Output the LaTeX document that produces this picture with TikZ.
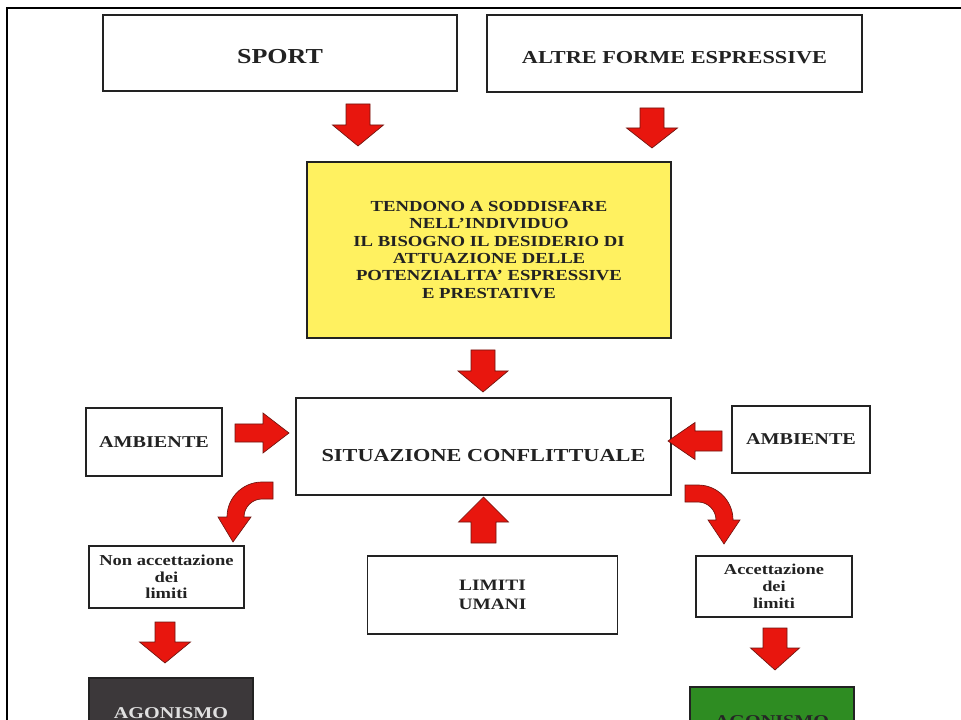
\documentclass[tikz,border=0pt]{standalone}
\usepackage{fontspec}
\setmainfont{Liberation Serif}[FakeStretch=1.22]
\definecolor{arrowred}{RGB}{232,22,14}
\definecolor{arrowedge}{RGB}{110,20,15}
\definecolor{boxyellow}{RGB}{255,241,96}
\definecolor{boxdark}{RGB}{60,56,58}
\definecolor{boxgreen}{RGB}{46,140,34}
\definecolor{inkgrey}{RGB}{34,34,34}
% block arrow: tail centre #1, rotation #2, length #3, head length #4,
% shaft half width #5, head half width #6
\newcommand\blockarr[6]{%
  \draw[blockarrow, shift={#1}, rotate=#2]
    (0,-#5) -- ({#3-#4},-#5) -- ({#3-#4},-#6) -- (#3,0) --
    ({#3-#4},#6) -- ({#3-#4},#5) -- (0,#5) -- cycle;}
\begin{document}
\begin{tikzpicture}[x=0.75pt,y=-0.75pt,
  box/.style={draw=inkgrey, line width=0.9pt, fill=white, inner sep=0pt,
    align=center, text=inkgrey},
  lbl/.style={align=center, text=inkgrey, inner sep=0pt},
  blockarrow/.style={fill=arrowred, draw=arrowedge, line width=0.5pt,
    line join=miter},
]
\useasboundingbox (0,0) rectangle (961,720);
\clip (0,0) rectangle (961,720);

% page frame
\draw[line width=1.6pt, black] (7,730) -- (7,8) -- (970,8);

% top row
\node[box, minimum width=265.5pt, minimum height=57pt] (sport) at (280,53) {};
\node[lbl, font=\fontsize{16}{18}\selectfont\bfseries] (sporttxt)
  at ([yshift=-2.6pt]sport.center) {SPORT};
\node[box, minimum width=281.25pt, minimum height=57.75pt] (altre) at (674.5,53.5) {};
\node[lbl, font=\fontsize{13.7}{16}\selectfont\bfseries] (altretxt)
  at ([yshift=-3pt]altre.center) {ALTRE FORME ESPRESSIVE};

% central statement
\node[box, fill=boxyellow, minimum width=273pt, minimum height=132pt,
  font=\fontsize{11.5}{13}\selectfont\bfseries] (tend) at (489,250)
  {TENDONO A SODDISFARE\\NELL'INDIVIDUO\\IL BISOGNO IL DESIDERIO DI\\
   ATTUAZIONE DELLE\\POTENZIALITA' ESPRESSIVE\\E PRESTATIVE};

% conflict
\node[box, minimum width=281.25pt, minimum height=72.75pt] (sit) at (483.5,446.5) {};
\node[lbl, font=\fontsize{13.7}{16}\selectfont\bfseries] (sittxt)
  at ([yshift=-7pt]sit.center) {SITUAZIONE CONFLITTUALE};

\node[box, minimum width=102pt, minimum height=51pt,
  font=\fontsize{12.4}{14}\selectfont\bfseries] (ambL) at (154,442) {AMBIENTE};
\node[box, minimum width=103.5pt, minimum height=50.25pt,
  font=\fontsize{12.4}{14}\selectfont\bfseries] (ambR) at (801,439.5) {AMBIENTE};

% outcomes
\node[box, minimum width=116.25pt, minimum height=46.5pt,
  font=\fontsize{11.4}{12.5}\selectfont\bfseries] (non) at (166.5,577)
  {Non accettazione\\dei\\limiti};
\node[box, minimum width=187.5pt, minimum height=58.5pt,
  font=\fontsize{11.9}{14}\selectfont\bfseries] (lim) at (492.5,595)
  {LIMITI\\UMANI};
\node[box, minimum width=117pt, minimum height=45.75pt,
  font=\fontsize{11.3}{12.5}\selectfont\bfseries] (acc) at (774,586.5)
  {Accettazione\\dei\\limiti};

\node[box, fill=boxdark, text=black!12, minimum width=123pt, minimum height=52.5pt,
  font=\fontsize{12.4}{14}\selectfont\bfseries] (agoL) at (171,713) {AGONISMO};
\node[box, fill=boxgreen, text=black!85, minimum width=123pt, minimum height=51pt,
  font=\fontsize{12.4}{14}\selectfont\bfseries] (agoR) at (772,721) {AGONISMO};

% straight block arrows
\blockarr{(358,104)}{-90}{42}{21}{12}{25.5}
\blockarr{(652,108)}{-90}{40}{20}{12}{25.5}
\blockarr{(483,350)}{-90}{42}{21}{12}{25}
\blockarr{(235,433)}{0}{54}{26}{9}{20}
\blockarr{(722,441)}{180}{54}{27}{10}{18.5}
\blockarr{(483.5,543)}{90}{46}{25}{12.5}{25}
\blockarr{(165,622)}{-90}{41}{21}{10}{25.5}
\blockarr{(775,628)}{-90}{42}{22}{12}{24.5}

% curved block arrows
\draw[blockarrow] (273,482) -- (262,482)
  .. controls (242.7,482) and (227,497.7) .. (227,517)
  -- (218,517) -- (233,542) -- (251,517) -- (244,517)
  .. controls (244,507.1) and (252.1,499) .. (262,499)
  -- (273,499) -- cycle;
\draw[blockarrow] (685,485) -- (698,485)
  .. controls (717.3,485) and (733,500.7) .. (733,520)
  -- (740,520) -- (724,544) -- (708,520) -- (716,520)
  .. controls (716,510.1) and (707.9,502) .. (698,502)
  -- (685,502) -- cycle;
\end{tikzpicture}
\end{document}
